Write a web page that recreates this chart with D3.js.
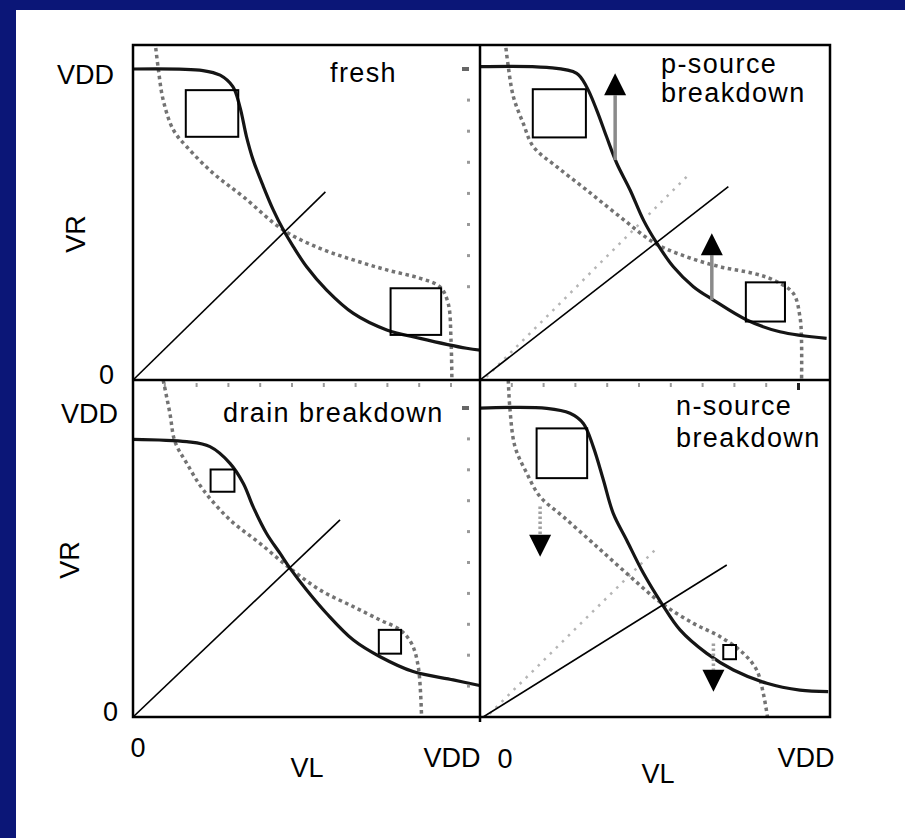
<!DOCTYPE html>
<html><head><meta charset="utf-8">
<script src="https://cdn.jsdelivr.net/npm/d3@7"></script>
<style>html,body{margin:0;padding:0;background:#fff;} svg{display:block;}</style>
</head><body>
<svg id="chart" width="905" height="838"></svg>
<script>
// ===== DATA (VL, VR in units of VDD) =====
const panelTitles = [["fresh"], ["p-source", "breakdown"], ["drain breakdown"], ["n-source", "breakdown"]];

// solid transfer curves (inverter 1: VR vs VL)
const freshVTC = [[0,1.0],[0.22,0.995],[0.274,0.98],[0.314,0.943],[0.336,0.879],[0.357,0.782],[0.378,0.707],[0.41,0.622],[0.441,0.547],[0.473,0.482],[0.504,0.429],[0.546,0.364],[0.609,0.289],[0.693,0.214],[0.798,0.161],[0.903,0.134],[1.049,0.102],[1.1,0.095]];
const pSourceVTC = [[-0.02,1.007],[0.21,1.005],[0.304,0.986],[0.335,0.943],[0.367,0.868],[0.398,0.782],[0.43,0.697],[0.472,0.611],[0.514,0.514],[0.556,0.44],[0.608,0.364],[0.671,0.3],[0.734,0.257],[0.839,0.193],[0.943,0.155],[1.09,0.134]];
const drainVTC = [[-0.02,0.899],[0.169,0.891],[0.242,0.875],[0.305,0.821],[0.347,0.756],[0.378,0.68],[0.42,0.594],[0.462,0.53],[0.494,0.481],[0.546,0.411],[0.609,0.335],[0.693,0.249],[0.777,0.195],[0.881,0.147],[1.007,0.12],[1.09,0.102]];
const nSourceVTC = [[-0.02,0.999],[0.21,0.999],[0.283,0.983],[0.325,0.95],[0.356,0.875],[0.388,0.767],[0.419,0.659],[0.461,0.573],[0.514,0.465],[0.571,0.368],[0.629,0.282],[0.713,0.206],[0.797,0.152],[0.902,0.109],[1.006,0.087],[1.095,0.082]];

// dotted mirrored curves (inverter 2)
const freshMirror = [[0.069,1.09],[0.08,0.997],[0.095,0.9],[0.127,0.804],[0.169,0.75],[0.253,0.664],[0.347,0.589],[0.473,0.482],[0.588,0.423],[0.693,0.386],[0.798,0.354],[0.903,0.327],[0.965,0.3],[0.991,0.247],[1.0,0.129],[1.003,-0.02]];
const pSourceMirror = [[0.079,1.09],[0.089,1.007],[0.105,0.911],[0.136,0.825],[0.168,0.75],[0.241,0.686],[0.335,0.611],[0.44,0.525],[0.55,0.44],[0.65,0.396],[0.755,0.364],[0.859,0.343],[0.922,0.322],[0.985,0.279],[1.006,0.204],[1.011,0.129],[1.011,-0.02]];
const drainMirror = [[0.095,1.09],[0.116,0.983],[0.132,0.891],[0.169,0.821],[0.221,0.735],[0.305,0.638],[0.399,0.562],[0.494,0.481],[0.588,0.411],[0.693,0.357],[0.777,0.314],[0.84,0.282],[0.876,0.238],[0.897,0.163],[0.908,-0.02]];
const nSourceMirror = [[0.089,1.09],[0.094,0.999],[0.11,0.875],[0.147,0.789],[0.189,0.713],[0.262,0.648],[0.356,0.562],[0.461,0.465],[0.571,0.368],[0.671,0.303],[0.755,0.26],[0.828,0.206],[0.87,0.152],[0.891,0.076],[0.907,-0.02]];

// load lines [start, end]
const freshDiag = [[0,0],[0.605,0.605]];
const pSourceDiag = [[0,0],[0.781,0.622]];
const drainDiag = [[0,0],[0.651,0.638]];
const nSourceDiag = [[0.01,0],[0.776,0.492]];
const pSourceRefDiag = [[0.02,0.01],[0.66,0.664]];
const nSourceRefDiag = [[0.03,0.01],[0.55,0.54]];

// noise-margin squares [x1, y1, x2, y2]
const freshSquares = [[0.166,0.782,0.331,0.932],[0.81,0.145,0.969,0.295]];
const pSourceSquares = [[0.166,0.78,0.333,0.935],[0.836,0.188,0.959,0.314]];
const drainSquares = [[0.244,0.729,0.319,0.801],[0.773,0.205,0.843,0.282]];
const nSourceSquares = [[0.178,0.773,0.337,0.934],[0.765,0.187,0.805,0.233]];

// arrows [x, yFrom, yTo]
const pSourceArrows = [[0.425,0.707,0.986],[0.729,0.257,0.472]];
const nSourceArrows = [[0.189,0.681,0.519],[0.734,0.238,0.082]];

// faint tick marks (values in VDD units)
const rightTickValuesTop = [1.0,0.9,0.8,0.7,0.6,0.5,0.4,0.3];
const rightTickValuesBottom = [1.0,0.9,0.8,0.7,0.6,0.5,0.4,0.3,0.2,0.1];
const topTickValues = [0.1,0.2,0.3,0.4,0.5,0.6,0.7,0.8,0.9,1.0];

// axis labels
const yTickLabels = ["VDD","0"];
const yTickValues = [1,0];
const xTickLabels = ["0","VDD"];
const xTickValues = [0,1];
const xAxisTitle = "VL";
const yAxisTitle = "VR";

// ===== LAYOUT =====
const W = 905, H = 838;
const colEdges = [133, 480, 830];
const rowEdges = [45, 380, 717];
const rowVdd = [69, 408];
const vddSpanX = 318;
const FONT = "'Liberation Sans', Arial, Helvetica, sans-serif";

const panels = [
  {col:0,row:0,vtc:freshVTC,mirror:freshMirror,diag:freshDiag,ref:null,squares:freshSquares,arrows:null,title:panelTitles[0],tx:197,ty:[37]},
  {col:1,row:0,vtc:pSourceVTC,mirror:pSourceMirror,diag:pSourceDiag,ref:pSourceRefDiag,squares:pSourceSquares,arrows:{data:pSourceArrows,dir:"up"},title:panelTitles[1],tx:181,ty:[28,57]},
  {col:0,row:1,vtc:drainVTC,mirror:drainMirror,diag:drainDiag,ref:null,squares:drainSquares,arrows:null,title:panelTitles[2],tx:90,ty:[42]},
  {col:1,row:1,vtc:nSourceVTC,mirror:nSourceMirror,diag:nSourceDiag,ref:nSourceRefDiag,squares:nSourceSquares,arrows:{data:nSourceArrows,dir:"down"},title:panelTitles[3],tx:196,ty:[35,67]}
];

const svg = d3.select("#chart");
svg.append("rect").attr("width",W).attr("height",H).attr("fill","#0b1677");
svg.append("rect").attr("x",16).attr("y",10).attr("width",W-16).attr("height",H-10).attr("fill","#fff");
const defs = svg.append("defs");

function scalesFor(p){
  const x = d3.scaleLinear().domain([0,1]).range([colEdges[p.col], colEdges[p.col]+vddSpanX]);
  const y = d3.scaleLinear().domain([0,1]).range([rowEdges[p.row+1], rowVdd[p.row]]);
  return {x,y};
}

panels.forEach((p,i)=>{
  const {x,y} = scalesFor(p);
  const L = colEdges[p.col], R = colEdges[p.col+1], T = rowEdges[p.row], B = rowEdges[p.row+1];
  defs.append("clipPath").attr("id","clip"+i).append("rect")
    .attr("x",L).attr("y",T).attr("width",R-L).attr("height",B-T);
  const g = svg.append("g").attr("clip-path",`url(#clip${i})`);
  const curve = d3.line().x(d=>x(d[0])).y(d=>y(d[1])).curve(d3.curveCatmullRom.alpha(0.5));
  const straight = d3.line().x(d=>x(d[0])).y(d=>y(d[1]));

  // faint reference diagonal
  if (p.ref) g.append("path").attr("d",straight(p.ref)).attr("fill","none")
      .attr("stroke","#b5b5b5").attr("stroke-width",2.5).attr("stroke-dasharray","2.5 6");

  // mirrored dotted curve
  g.append("path").attr("d",curve(p.mirror)).attr("fill","none")
    .attr("stroke","#5a5a5a").attr("stroke-width",3.5).attr("stroke-dasharray","3.5 3.5").attr("opacity",0.85);

  // solid transfer curve
  g.append("path").attr("d",curve(p.vtc)).attr("fill","none")
    .attr("stroke","#151515").attr("stroke-width",3.2).attr("stroke-linejoin","round");

  // load line
  g.append("path").attr("d",straight(p.diag)).attr("fill","none")
    .attr("stroke","#000").attr("stroke-width",1.6);

  // squares
  g.selectAll("rect.sq").data(p.squares).join("rect").attr("class","sq")
    .attr("x",d=>x(d[0])).attr("y",d=>y(d[3]))
    .attr("width",d=>x(d[2])-x(d[0])).attr("height",d=>y(d[1])-y(d[3]))
    .attr("fill","none").attr("stroke","#000").attr("stroke-width",2);

  // arrows
  if (p.arrows){
    const up = p.arrows.dir==="up";
    const headL = 22, headW = 11;
    p.arrows.data.forEach(a=>{
      const ax = x(a[0]), y0 = y(a[1]), y1 = y(a[2]);
      const base = up ? y1 + headL : y1 - headL;
      g.append("line").attr("x1",ax).attr("x2",ax).attr("y1",y0).attr("y2",base)
        .attr("stroke", up ? "#8a8a8a" : "#a0a0a0").attr("stroke-width",3.5)
        .attr("stroke-dasharray", up ? null : "2.5 2.5");
      g.append("path").attr("d",`M${ax},${y1}L${ax-headW},${base}L${ax+headW},${base}Z`).attr("fill","#000");
    });
  }

  // title
  const t = svg.append("text").attr("font-family",FONT).attr("font-size",27).attr("letter-spacing",1.4).attr("fill","#000");
  p.title.forEach((s,k)=> t.append("tspan").attr("x",L+p.tx).attr("y",T+p.ty[k]).text(s));
});

// faint tick marks along right edge of left panels
[0,1].forEach(row=>{
  const p = panels[row*2];
  const {x,y} = scalesFor(p);
  const vals = row===0 ? rightTickValuesTop : rightTickValuesBottom;
  const tx = colEdges[1]-12;
  svg.selectAll(null).data(vals).join("rect")
    .attr("x",(d,k)=> k===0 ? tx-6 : tx-1).attr("y",(d,k)=> y(d)-(k===0?2:1.5))
    .attr("width",(d,k)=> k===0 ? 7 : 3).attr("height",(d,k)=> k===0 ? 4 : 3)
    .attr("fill",(d,k)=> k===0 ? "#666" : "#999");
});
// tick marks along top of bottom panels
[2,3].forEach(i=>{
  const {x} = scalesFor(panels[i]);
  svg.selectAll(null).data(topTickValues).join("rect")
    .attr("x",d=>x(d)-1).attr("y",rowEdges[1]+3)
    .attr("width",(d,k)=> (i===3 && k===topTickValues.length-1) ? 3 : 2)
    .attr("height",(d,k)=> (i===3 && k===topTickValues.length-1) ? 7 : 4)
    .attr("fill",(d,k)=> (i===3 && k===topTickValues.length-1) ? "#222" : "#999");
});

// frame
const fr = svg.append("g").attr("stroke","#000").attr("stroke-width",2.5).attr("fill","none");
fr.append("rect").attr("x",colEdges[0]).attr("y",rowEdges[0]).attr("width",colEdges[2]-colEdges[0]).attr("height",rowEdges[2]-rowEdges[0]);
fr.append("line").attr("x1",colEdges[1]).attr("x2",colEdges[1]).attr("y1",rowEdges[0]).attr("y2",rowEdges[2]+5);
fr.append("line").attr("x1",colEdges[0]).attr("x2",colEdges[2]).attr("y1",rowEdges[1]).attr("y2",rowEdges[1]);

// axis labels
const lab = svg.append("g").attr("font-family",FONT).attr("font-size",27).attr("fill","#000");
[0,1].forEach(row=>{
  const {y} = scalesFor(panels[row*2]);
  yTickLabels.forEach((s,k)=>{
    lab.append("text").attr("x",114+row*4).attr("y",y(yTickValues[k]) + (k===0 ? 6 : -5))
      .attr("text-anchor","end").attr("dominant-baseline","central").text(s);
  });
  const cy = row===0 ? 234 : 560, cx = row===0 ? 76 : 70;
  lab.append("text").attr("transform",`translate(${cx},${cy}) rotate(-90)`)
    .attr("text-anchor","middle").attr("dominant-baseline","central").text(yAxisTitle);
});
const xLabOffsets = [[[5,757],[1,767]],[[25,768],[8,767]]];
const xTitlePos = [[307,777],[658,783]];
[0,1].forEach(col=>{
  const {x} = scalesFor(panels[2+col]);
  xTickLabels.forEach((s,k)=>{
    lab.append("text").attr("x",x(xTickValues[k])+xLabOffsets[col][k][0]).attr("y",xLabOffsets[col][k][1])
      .attr("text-anchor","middle").text(s);
  });
  lab.append("text").attr("x",xTitlePos[col][0]).attr("y",xTitlePos[col][1]).attr("text-anchor","middle").text(xAxisTitle);
});
</script>
</body></html>
